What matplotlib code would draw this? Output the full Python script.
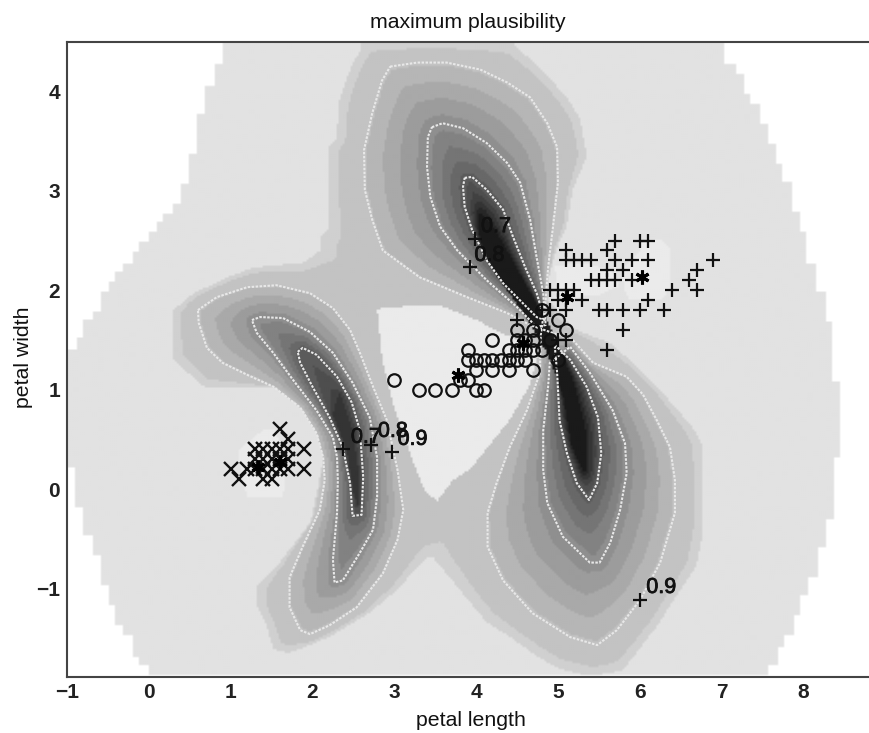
import numpy as np
import matplotlib
matplotlib.use("Agg")
import matplotlib.pyplot as plt
import matplotlib.patheffects as pe
from matplotlib.path import Path

plt.rcParams['font.family'] = ['Liberation Sans', 'DejaVu Sans']

# iris points, petal length / petal width
setosa_x = [1.0,1.1,1.2,1.3,1.3,1.3,1.4,1.4,1.4,1.4,1.5,1.5,1.5,1.5,1.6,1.6,1.6,1.6,1.7,1.7,1.7,1.7,1.9,1.9]
setosa_y = [0.2,0.1,0.2,0.2,0.3,0.4,0.1,0.2,0.3,0.4,0.1,0.2,0.3,0.4,0.2,0.3,0.4,0.6,0.2,0.3,0.4,0.5,0.2,0.4]
versi_x = [3.0,3.3,3.5,3.7,4.0,4.1,3.8,3.9,4.0,4.2,4.4,4.7,3.9,4.0,4.1,4.2,4.3,4.4,4.5,4.6,
           3.9,4.4,4.5,4.6,4.7,4.8,4.2,4.5,4.6,4.7,4.9,4.5,4.7,5.0,5.1,4.8,5.0]
versi_y = [1.1,1.0,1.0,1.0,1.0,1.0,1.1,1.1,1.2,1.2,1.2,1.2,1.3,1.3,1.3,1.3,1.3,1.3,1.3,1.3,
           1.4,1.4,1.4,1.4,1.4,1.4,1.5,1.5,1.5,1.5,1.5,1.6,1.6,1.7,1.6,1.8,1.3]
virgi_x = [4.5,4.8,4.9,4.9,5.0,5.0,5.0,5.1,5.1,5.1,5.1,5.1,5.1,5.2,5.2,5.3,5.3,5.4,5.4,5.5,5.5,5.6,5.6,
           5.6,5.6,5.6,5.7,5.7,5.7,5.8,5.8,5.8,5.9,5.9,6.0,6.0,6.1,6.1,6.1,6.3,6.4,6.6,6.7,6.7,6.9]
virgi_y = [1.7,1.8,1.8,2.0,1.5,1.9,2.0,1.5,1.8,1.9,2.0,2.3,2.4,2.0,2.3,1.9,2.3,2.1,2.3,1.8,2.1,1.4,1.8,
           2.1,2.2,2.4,2.1,2.3,2.5,1.6,1.8,2.2,2.1,2.3,1.8,2.5,1.9,2.3,2.5,1.8,2.0,2.1,2.0,2.2,2.3]
center_x = [1.33,1.60,3.78,4.57,5.11,6.03]
center_y = [0.22,0.27,1.15,1.47,1.93,2.13]

# labelled points
extra_x = [3.99,3.93,2.37,2.71,2.97,6.00]
extra_y = [2.52,2.23,0.40,0.44,0.37,-1.12]
label_x = [4.06,3.98,2.47,2.80,3.04,6.08]
label_y = [2.64,2.35,0.52,0.58,0.50,-0.99]
label_txt = ['0.7','0.8','0.7','0.8','0.9','0.9']

xticks = [-1,0,1,2,3,4,5,6,7,8]
yticks = [-1,0,1,2,3,4]

# stairstep edge of the shaded area: (y where the step ends, x of the step)
left_edge = [(4.28,0.89),(4.07,0.79),(3.79,0.68),(3.38,0.57),(3.08,0.49),(2.88,0.39),(2.78,0.28),(2.69,0.17),
             (2.60,0.10),(2.49,-0.01),(2.39,-0.12),(2.28,-0.21),(2.19,-0.32),(2.09,-0.42),(1.99,-0.51),
             (1.79,-0.60),(1.70,-0.70),(1.52,-0.81),(1.40,-0.90),(0.21,-1.0),(-0.18,-0.92),(-0.47,-0.81),
             (-0.68,-0.70),(-0.97,-0.60),(-1.18,-0.51),(-1.37,-0.42),(-1.48,-0.32),(-1.70,-0.21),
             (-1.79,-0.12),(-1.89,-0.01)]
right_edge = [(4.29,7.05),(4.19,7.18),(3.99,7.29),(3.88,7.36),(3.68,7.47),(3.48,7.58),(3.28,7.68),(3.09,7.76),
              (2.79,7.86),(2.59,7.98),(2.27,8.04),(1.98,8.17),(1.69,8.28),(1.09,8.37),(0.31,8.46),
              (-0.30,8.39),(-0.59,8.29),(-0.89,8.18),(-1.08,8.07),(-1.28,7.98),(-1.48,7.89),(-1.59,7.78),
              (-1.78,7.69),(-1.89,7.58)]

# outline of the darker shaded band
band_edge = [(2.59,4.50),(4.46,4.50),(4.50,4.45),(4.78,4.25),(5.11,3.95),(5.27,3.74),(5.35,3.38),(5.35,3.34),
             (5.18,3.01),(5.11,2.64),(4.99,2.43),(4.90,2.17),(4.88,1.90),(5.23,1.60),(5.64,1.47),(5.92,1.27),
             (6.25,1.00),(6.65,0.62),(6.76,0.46),(6.77,-0.48),(6.70,-0.78),(6.34,-1.22),(6.25,-1.35),(5.97,-1.65),
             (5.79,-1.84),(5.39,-1.89),(5.02,-1.82),(4.74,-1.69),(4.41,-1.49),(4.13,-1.35),(3.77,-0.99),(3.47,-0.69),
             (3.40,-0.69),(3.03,-1.02),(2.70,-1.25),(2.21,-1.49),(1.85,-1.62),(1.69,-1.66),(1.52,-1.62),(1.42,-1.35),
             (1.32,-1.19),(1.32,-0.97),(1.60,-0.74),(1.97,-0.34),(2.05,-0.04),(2.13,0.32),(2.05,0.59),(1.85,0.87),
             (1.69,1.03),(1.48,1.03),(0.68,1.02),(0.29,1.30),(0.29,1.80),(0.54,1.97),(0.95,2.13),(1.27,2.23),
             (1.88,2.28),(2.09,2.40),(2.09,2.54),(2.19,2.61),(2.19,3.44),(2.30,3.54),(2.31,3.88),(2.40,4.11),
             (2.49,4.29),(2.58,4.42)]

# pale patches around the class clusters
pale_mid = [(2.79,1.80),(2.86,1.83),(3.56,1.85),(4.01,1.70),(4.29,1.58),(4.78,1.40),(4.66,1.05),(4.41,0.69),
            (3.92,0.19),(3.72,0.09),(3.52,-0.13),(3.37,-0.01),(3.23,0.26),(2.98,0.87),(2.85,1.30)]
pale_set = [(1.08,0.39),(1.39,0.59),(1.52,0.59),(1.66,0.36),(1.64,-0.09),(1.20,-0.09),(1.15,0.06)]
pale_vir = [(6.00,2.51),(6.28,2.51),(6.39,2.40),(6.39,2.05),(6.28,1.90),(5.88,1.90),(5.82,2.00),(5.78,2.20),(6.00,2.40)]
pale_neck = [(4.96,2.25),(5.33,2.28),(5.66,2.20),(5.76,2.05),(5.51,1.95),(5.02,1.92)]

# contour lines
c90_big = [(2.95,4.25),(3.28,4.29),(3.64,4.29),(4.05,4.22),(4.38,4.09),(4.66,3.94),(4.87,3.68),(4.99,3.44),(5.00,3.08),
           (4.94,2.64),(4.88,2.23),(4.85,1.90),(4.79,1.55),(4.78,1.17),(4.62,0.79),(4.41,0.42),(4.25,0.06),(4.14,-0.24),
           (4.14,-0.58),(4.33,-0.92),(4.69,-1.25),(5.15,-1.49),(5.48,-1.57),(5.72,-1.42),(6.00,-1.12),(6.25,-0.74),
           (6.43,-0.24),(6.43,0.09),(6.37,0.42),(6.21,0.69),(6.04,0.95),(5.84,1.13),(5.43,1.27),(5.18,1.50),(4.66,1.65),
           (4.38,1.77),(3.89,1.93),(3.31,2.13),(2.86,2.40),(2.73,2.71),(2.64,3.01),(2.63,3.41),(2.73,3.78),(2.85,4.11)]
c90_left = [(0.60,1.80),(0.83,1.93),(1.20,2.03),(1.56,2.05),(1.97,1.97),(2.25,1.82),(2.46,1.60),(2.58,1.37),(2.74,1.03),
            (2.91,0.69),(3.04,0.19),(3.11,-0.21),(3.04,-0.51),(2.86,-0.85),(2.54,-1.19),(2.21,-1.37),(1.97,-1.46),
            (1.85,-1.42),(1.72,-1.19),(1.72,-0.89),(1.88,-0.58),(2.09,-0.21),(2.15,0.09),(2.13,0.32),(2.05,0.56),
            (1.85,0.82),(1.52,1.03),(1.20,1.15),(0.90,1.27),(0.71,1.42),(0.61,1.67)]
c80_up = [(3.46,3.64),(3.59,3.68),(3.84,3.63),(4.13,3.48),(4.38,3.28),(4.54,3.08),(4.66,2.71),(4.74,2.33),(4.82,1.97),
          (4.85,1.65),(4.74,1.63),(4.50,1.83),(4.13,2.10),(3.77,2.40),(3.56,2.64),(3.44,2.94),(3.40,3.24),(3.41,3.54)]
c80_low = [(5.15,1.43),(5.39,1.17),(5.67,0.79),(5.82,0.46),(5.84,0.16),(5.76,-0.21),(5.64,-0.54),(5.51,-0.74),(5.39,-0.74),
           (5.06,-0.48),(4.87,-0.14),(4.82,0.19),(4.82,0.59),(4.88,1.03),(4.90,1.27)]
c80_left = [(1.26,1.70),(1.36,1.73),(1.64,1.72),(1.97,1.58),(2.25,1.37),(2.49,1.07),(2.70,0.72),(2.79,0.32),(2.79,-0.08),
            (2.74,-0.41),(2.58,-0.64),(2.37,-0.92),(2.27,-0.94),(2.25,-0.71),(2.30,-0.24),(2.31,0.09),(2.30,0.32),
            (2.25,0.52),(2.05,0.79),(1.76,1.10),(1.52,1.37),(1.32,1.57)]
c70_up = [(3.86,3.13),(3.95,3.14),(4.13,3.01),(4.33,2.81),(4.45,2.54),(4.60,2.23),(4.74,1.97),(4.84,1.70),(4.74,1.73),
          (4.57,1.87),(4.33,2.07),(4.13,2.30),(3.95,2.61),(3.86,2.84),(3.84,3.04)]
c70_low = [(4.96,1.45),(5.15,1.30),(5.35,1.03),(5.49,0.72),(5.53,0.36),(5.48,0.06),(5.38,-0.11),(5.23,0.06),(5.11,0.36),
           (5.02,0.69),(4.99,1.17)]
c70_left = [(1.82,1.38),(1.88,1.42),(2.05,1.35),(2.30,1.13),(2.48,0.87),(2.58,0.59),(2.62,0.12),(2.60,-0.26),(2.49,-0.27),
            (2.46,0.06),(2.37,0.42),(2.21,0.72),(2.00,1.03),(1.85,1.27)]

# darkest ridges
core_big = [(4.05,2.76),(4.29,2.50),(4.60,2.05),(4.90,1.65),(5.17,1.10),(5.31,0.59),(5.32,0.19),(5.18,0.44),(5.09,0.90),
            (4.88,1.35),(4.60,1.75),(4.25,2.15),(4.05,2.50)]
core_left = [(2.33,0.95),(2.48,0.59),(2.55,0.19),(2.55,-0.16),(2.49,-0.01),(2.42,0.39),(2.25,0.74)]

# grey value at each outline
grey_back = 226
grey_pale = 235
grey_levels = [206, 190, 142, 92]
grey_core_big = 22
grey_core_left = 55
grey_step = 13

XMIN, XMAX, YMIN, YMAX = -1.0, 8.814, -1.891, 4.497


def step_outline(left, right):
    pts = []
    y = YMAX
    for y2, x in left:
        pts += [(x, y), (x, y2)]
        y = y2
    rpts = []
    y = YMAX
    for y2, x in right:
        rpts += [(x, y), (x, y2)]
        y = y2
    return pts + rpts[::-1]


def dist(px, py, poly):
    # distance in screen-like units, x and y scales differ on this plot
    p = np.array(poly + [poly[0]])
    best = np.full(px.shape, 1e9)
    for i in range(len(p) - 1):
        ax_, ay_ = p[i, 0]*81.8, p[i, 1]*99.4
        bx_, by_ = p[i+1, 0]*81.8, p[i+1, 1]*99.4
        dx, dy = bx_-ax_, by_-ay_
        t = ((px*81.8-ax_)*dx + (py*99.4-ay_)*dy) / (dx*dx+dy*dy)
        t = np.clip(t, 0, 1)
        d = np.hypot(px*81.8-ax_-t*dx, py*99.4-ay_-t*dy)
        best = np.minimum(best, d)
    return best


def inside(px, py, poly):
    pts = np.column_stack([px, py])
    return Path(poly + [poly[0]]).contains_points(pts)


nx, ny = 402, 318
gx = np.linspace(XMIN, XMAX, nx)
gy = np.linspace(YMIN, YMAX, ny)
X, Y = np.meshgrid(gx, gy)
px = X.ravel()
py = Y.ravel()

levels = [[band_edge], [c90_big, c90_left], [c80_up, c80_low, c80_left], [c70_up, c70_low, c70_left]]
ins = []
dst = []
for polys in levels:
    ins.append(np.any([inside(px, py, p) for p in polys], axis=0))
    dst.append(np.min([dist(px, py, p) for p in polys], axis=0))

d_big = dist(px, py, core_big)
d_left = dist(px, py, core_left)
in_big = inside(px, py, core_big)
in_left = inside(px, py, core_left)
dcore = np.minimum(d_big, d_left)
gcore = np.where(d_big < d_left, grey_core_big, grey_core_left)

field = np.full(px.shape, float(grey_back))
for k in range(4):
    if k < 3:
        g2 = grey_levels[k+1]
        d2 = dst[k+1]
    else:
        g2 = gcore
        d2 = dcore
    d1 = dst[k]
    t = d1 / (d1 + d2 + 1e-6)
    val = grey_levels[k] + t*(g2 - grey_levels[k])
    field[ins[k]] = val[ins[k]]
field[in_big] = grey_core_big
field[in_left] = grey_core_left

# contour look: grey comes in flat bands
shaded = ins[0].copy()
field[shaded] = np.round(field[shaded]/grey_step)*grey_step

for p in [pale_mid, pale_set, pale_vir, pale_neck]:
    field[inside(px, py, p) & (field >= 195)] = grey_pale

outline = step_outline(left_edge, right_edge)
field[~inside(px, py, outline)] = 255
field = field.reshape(X.shape)

fig = plt.figure(figsize=(8.70, 7.33), dpi=100)
ax = fig.add_axes([67/870, (733-677)/733, (870-67)/870, (677-42)/733])
ax.imshow(field, origin='lower', extent=[XMIN, XMAX, YMIN, YMAX], cmap='gray', vmin=0, vmax=255,
          aspect='auto', interpolation='bilinear')

for poly in [c90_big, c90_left, c80_up, c80_low, c80_left, c70_up, c70_low, c70_left]:
    p = np.array(poly + [poly[0]])
    ax.plot(p[:, 0], p[:, 1], color='#e8e8e8', lw=1.5, ls=(0, (1.2, 0.7)))

ax.plot(setosa_x, setosa_y, 'x', color='#111111', ms=10.5, mew=1.7, mfc='none')
ax.plot(versi_x, versi_y, 'o', color='#111111', ms=9, mew=1.6, mfc='none')
ax.plot(virgi_x, virgi_y, '+', color='#111111', ms=10.5, mew=1.6)
ax.plot(extra_x, extra_y, '+', color='#111111', ms=10.5, mew=1.6)
ax.plot(center_x, center_y, marker=(6, 2, 0), ls='none', color='black', ms=10, mew=2.2)

heavy = [pe.withStroke(linewidth=0.6, foreground='#111111')]
for i in range(len(label_txt)):
    ax.text(label_x[i], label_y[i], label_txt[i], fontsize=15.5, color='#111111', va='center', ha='left',
            path_effects=heavy)

ax.set_xlim(XMIN, XMAX)
ax.set_ylim(YMIN, YMAX)
ax.set_xticks(xticks)
ax.set_yticks(yticks)
ax.set_xticklabels(['\u2212' + str(-v) if v < 0 else str(v) for v in xticks], fontsize=15, fontweight='bold', color='#222222')
ax.set_yticklabels(['\u2212' + str(-v) if v < 0 else str(v) for v in yticks], fontsize=15, fontweight='bold', color='#222222')
ax.tick_params(axis='x', length=0, pad=4)
ax.tick_params(axis='y', length=0, pad=5)
for s in ax.spines.values():
    s.set_color('#444444')
    s.set_linewidth(1.5)
ax.spines['right'].set_visible(False)

fig.text(468/870, 1-23/733, 'maximum plausibility', fontsize=15.3, ha='center', va='center', color='#111111')
fig.text(471/870, 1-721/733, 'petal length', fontsize=15.3, ha='center', va='center', color='#111111')
fig.text(24/870, 1-357/733, 'petal width', fontsize=15.3, ha='center', va='center', rotation=90, color='#111111')

fig.savefig('out.png', dpi=100)
